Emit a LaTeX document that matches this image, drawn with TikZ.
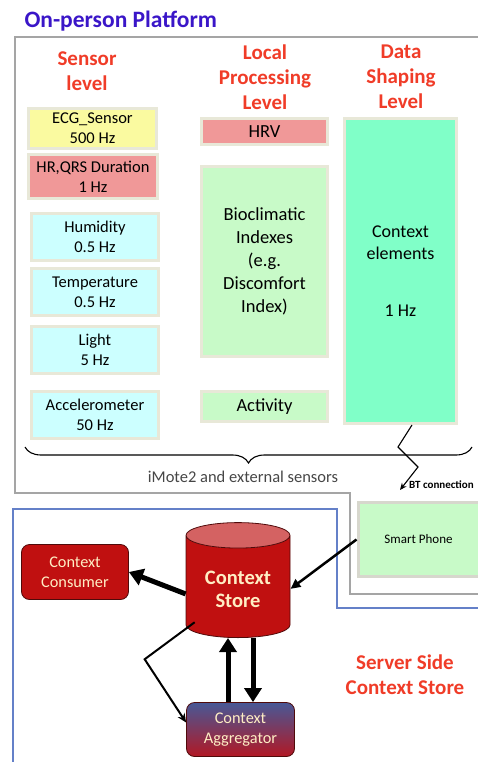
\documentclass[tikz,border=0pt]{standalone}
\usepackage{fontspec}
\setmainfont{Carlito}
\usepackage{xcolor}
\usepackage{tikz}
\usetikzlibrary{shapes.geometric,arrows.meta,decorations.pathreplacing}
\definecolor{titleblue}{RGB}{58,22,200}
\definecolor{headred}{RGB}{240,60,40}
\definecolor{ecgyellow}{RGB}{250,250,160}
\definecolor{hrpink}{RGB}{240,152,152}
\definecolor{envcyan}{RGB}{204,255,255}
\definecolor{procgreen}{RGB}{200,250,200}
\definecolor{ctxmint}{RGB}{128,255,200}
\definecolor{boxrim}{RGB}{232,232,216}
\definecolor{phonerim}{RGB}{215,215,205}
\definecolor{storered}{RGB}{192,16,16}
\definecolor{storetop}{RGB}{212,98,98}
\definecolor{storeline}{RGB}{80,10,10}
\definecolor{paleyellow}{RGB}{255,238,196}
\definecolor{aggblue}{RGB}{72,88,150}
\definecolor{aggred}{RGB}{178,24,36}
\definecolor{frameblue}{RGB}{100,128,200}
\definecolor{framegray}{RGB}{165,165,165}
\definecolor{labelgray}{RGB}{70,70,70}
\tikzset{
    header/.style = {align=center, text=headred, font=\fontsize{21}{25}\selectfont\bfseries},
    levelbox/.style = {rectangle, draw=boxrim, line width=3pt, inner sep=0pt, align=center, font=\fontsize{16.5}{20}\selectfont},
    sensorbox/.style = {levelbox, minimum width=127pt, minimum height=47pt, fill=envcyan},
    procbox/.style = {levelbox, minimum width=126pt, fill=procgreen, font=\fontsize{18.5}{23}\selectfont},
    serverbox/.style = {rectangle, rounded corners=8pt, draw=storeline, line width=0.8pt, text=paleyellow, align=center, font=\fontsize{16.3}{20}\selectfont},
    arrow/.style = {line width=2.5pt, -{Triangle[length=10pt,width=9pt]}},
    fatarrow/.style = {line width=5pt, -{Triangle[length=14pt,width=17pt]}},
    thinarrow/.style = {line width=2pt, -{Stealth[length=9pt,width=8pt]}},
    btarrow/.style = {line width=1.1pt, -{Stealth[length=7pt,width=6pt]}}
}
\begin{document}
\begin{tikzpicture}[x=1pt,y=-1pt]
\useasboundingbox (0,0) rectangle (478,762);

\draw [framegray, line width=2pt] (478,37) -- (15,37) -- (15,493) -- (350,493) -- (350,594) -- (478,594);
\draw [frameblue, line width=2pt] (13,764) -- (13,509) -- (337,509) -- (337,608) -- (478,608);

\node (title) [anchor=west, text=titleblue, font=\fontsize{23.5}{28}\selectfont\bfseries] at (21,21) {On-person Platform};

\node (sensorhead) [header] at (87,71) {Sensor\\level};
\node (localhead) [header] at (265,77) {Local\\Processing\\Level};
\node (datahead) [header] at (401,77) {Data\\Shaping\\Level};

\node (ecg) [levelbox, minimum width=128pt, minimum height=40pt, fill=ecgyellow] at (92.5,128.5) {ECG\_Sensor\\500 Hz};
\node (hrqrs) [levelbox, minimum width=129pt, minimum height=44pt, fill=hrpink] at (93,176.5) {HR,QRS Duration\\1 Hz};
\node (humidity) [sensorbox] at (95,237) {Humidity\\0.5 Hz};
\node (temperature) [sensorbox] at (95,292) {Temperature\\0.5 Hz};
\node (light) [sensorbox] at (95,350) {Light\\5 Hz};
\node (accel) [sensorbox] at (95,415) {Accelerometer\\50 Hz};

\node (hrv) [procbox, minimum height=26pt, fill=hrpink] at (264.5,131.5) {HRV};
\node (bioclim) [procbox, minimum height=190pt] at (264.5,261.5) {Bioclimatic\\Indexes\\(e.g.\\Discomfort\\Index)};
\node (activity) [procbox, minimum height=30pt] at (264.5,406.5) {Activity};

\node (ctx) [levelbox, minimum width=112pt, minimum height=305pt, fill=ctxmint, font=\fontsize{18}{22}\selectfont] at (400.5,271) {Context\\elements\\[35pt]1 Hz};

\draw [decorate, decoration={brace, mirror, amplitude=16pt}, line width=1.1pt] (25,447) -- (472,447);
\node (imote) [text=labelgray, font=\fontsize{16.5}{20}\selectfont] at (243,477) {iMote2 and external sensors};

\node (phone) [rectangle, draw=phonerim, line width=3pt, fill=procgreen, minimum width=121pt, minimum height=74pt, font=\fontsize{13}{16}\selectfont] at (418.5,539.5) {Smart Phone};
\node (btlabel) [anchor=west, inner sep=0pt, font=\fontsize{11}{13}\selectfont\bfseries] at (409,485) {BT connection};
\coordinate (btend) at (400,490);
\draw [btarrow] ([xshift=11.5pt]ctx.south) -- (398,447) -- (418,467) -- (btend);

\node (store) [cylinder, shape border rotate=90, aspect=0.35, minimum width=104pt, minimum height=115pt, draw=storeline, line width=0.8pt, cylinder uses custom fill, cylinder body fill=storered, cylinder end fill=storetop, text=paleyellow, align=center, font=\fontsize{20.5}{23}\selectfont\bfseries, anchor=south] at (238,638) {Context\\Store};
\node (consumer) [serverbox, minimum width=107pt, minimum height=55pt, fill=storered] at (75,572) {Context\\Consumer};
\node (aggregator) [serverbox, minimum width=108pt, minimum height=54pt, top color=aggblue, bottom color=aggred] at (240.5,729.5) {Context\\Aggregator};

\node (serverhead) [header] at (405,674.5) {Server Side\\Context Store};

\draw [fatarrow] ([yshift=-5pt]store.west) -- (consumer.east);
\draw [arrow] (phone.west) -- (store.east);
\draw [fatarrow] ([xshift=-12.5pt]aggregator.north) -- ([xshift=-10pt]store.south);
\draw [fatarrow] ([xshift=15pt]store.south) -- ([xshift=12.5pt]aggregator.north);
\draw [thinarrow] ([yshift=10pt]store.south west) -- ++(-50,37) -- ([yshift=7pt]aggregator.west);
\end{tikzpicture}
\end{document}
